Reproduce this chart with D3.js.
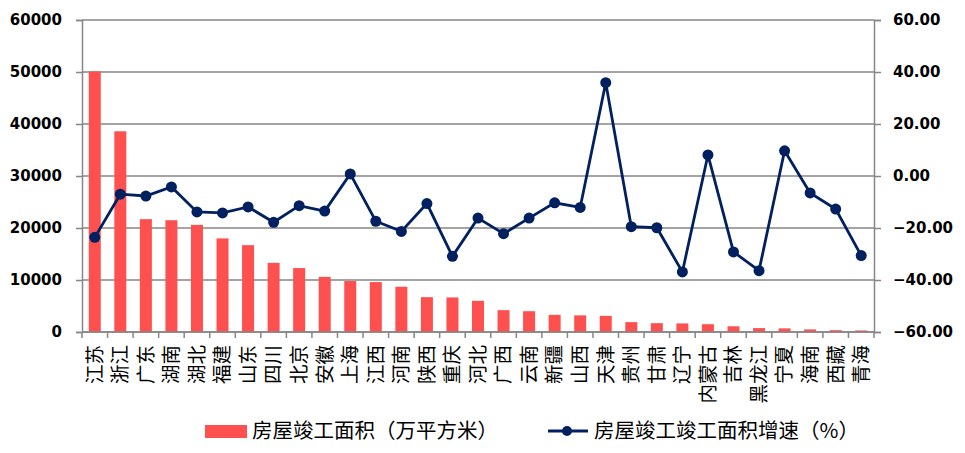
<!DOCTYPE html>
<html>
<head>
<meta charset="utf-8">
<script src="https://cdn.jsdelivr.net/npm/d3@7"></script>
<style>
  body { margin: 0; background: #fff; }
  svg { display: block; }
</style>
</head>
<body>
<div id="chart"></div>
<script>
// provinces, sorted by completed floor area
var provinces = ["江苏", "浙江", "广东", "湖南", "湖北", "福建", "山东", "四川", "北京", "安徽",
  "上海", "江西", "河南", "陕西", "重庆", "河北", "广西", "云南", "新疆", "山西",
  "天津", "贵州", "甘肃", "辽宁", "内蒙古", "吉林", "黑龙江", "宁夏", "海南", "西藏", "青海"];

// 房屋竣工面积（万平方米）
var areaValues = [50100, 38600, 21700, 21500, 20600, 18000, 16700, 13300, 12300, 10600,
  9800, 9600, 8700, 6700, 6650, 6000, 4200, 4000, 3300, 3200,
  3100, 1900, 1700, 1650, 1500, 1100, 750, 700, 500, 350, 300];

// 房屋竣工面积增速（%）
var growthValues = [-23.6, -7.0, -7.7, -4.2, -13.8, -14.2, -11.9, -17.8, -11.4, -13.5,
  0.8, -17.4, -21.3, -10.6, -30.9, -16.2, -22.2, -16.2, -10.3, -12.1,
  35.9, -19.5, -19.9, -36.9, 8.1, -29.2, -36.4, 9.7, -6.5, -12.7, -30.6];

var leftTicks = [0, 10000, 20000, 30000, 40000, 50000, 60000];
var rightTicks = [-60, -40, -20, 0, 20, 40, 60];

var width = 965;
var height = 453;
var margin = { top: 20, right: 91, bottom: 121, left: 82 };
var plotW = width - margin.left - margin.right;
var plotH = height - margin.top - margin.bottom;

var gray = "#868686";
var barColor = "#ff5050";
var lineColor = "#002060";

var svg = d3.select("#chart")
  .append("svg")
  .attr("width", width)
  .attr("height", height);

var g = svg.append("g")
  .attr("transform", "translate(" + margin.left + "," + margin.top + ")");

var x = d3.scaleBand()
  .domain(provinces)
  .range([0, plotW])
  .paddingInner(0.53)
  .paddingOuter(0.265);

var yLeft = d3.scaleLinear().domain([0, 60000]).range([plotH, 0]);
var yRight = d3.scaleLinear().domain([-60, 60]).range([plotH, 0]);

// gridlines
g.append("g")
  .selectAll("line")
  .data(leftTicks)
  .enter()
  .append("line")
  .attr("x1", 0)
  .attr("x2", plotW)
  .attr("y1", d => yLeft(d))
  .attr("y2", d => yLeft(d))
  .style("stroke", gray)
  .style("stroke-width", 1.3);

// left axis
var leftAxis = g.append("g")
  .call(d3.axisLeft(yLeft).tickValues(leftTicks).tickSize(6).tickPadding(14).tickFormat(d3.format("d")));

// right axis
var rightAxis = g.append("g")
  .attr("transform", "translate(" + plotW + ",0)")
  .call(d3.axisRight(yRight).tickValues(rightTicks).tickSize(7).tickPadding(12).tickFormat(d3.format(".2f")));

[leftAxis, rightAxis].forEach(function(a) {
  a.select(".domain").style("stroke", gray).style("stroke-width", 1.5);
  a.selectAll(".tick line").style("stroke", gray).style("stroke-width", 1.5);
  a.selectAll(".tick text")
    .style("font-family", "DejaVu Sans")
    .style("font-weight", "bold")
    .style("font-size", "15px")
    .style("fill", "#000");
});

// bars
g.append("g")
  .selectAll("rect")
  .data(areaValues)
  .enter()
  .append("rect")
  .attr("x", (d, i) => x(provinces[i]))
  .attr("y", d => yLeft(d))
  .attr("width", x.bandwidth())
  .attr("height", d => plotH - yLeft(d))
  .style("fill", barColor);

// bottom axis (ticks at band boundaries)
var step = plotW / provinces.length;
var bottom = g.append("g").attr("transform", "translate(0," + plotH + ")");
bottom.append("line")
  .attr("x1", 0).attr("x2", plotW)
  .style("stroke", gray).style("stroke-width", 1.5);
bottom.selectAll(".btick")
  .data(d3.range(provinces.length + 1))
  .enter()
  .append("line")
  .attr("class", "btick")
  .attr("x1", i => i * step).attr("x2", i => i * step)
  .attr("y1", 0).attr("y2", 6)
  .style("stroke", gray).style("stroke-width", 1.5);

// category labels, rotated to read bottom-to-top
bottom.selectAll(".cat")
  .data(provinces)
  .enter()
  .append("text")
  .attr("class", "cat")
  .attr("transform", d => "translate(" + (x(d) + x.bandwidth() / 2) + ",13) rotate(-90)")
  .attr("text-anchor", "end")
  .attr("dy", "0.35em")
  .style("font-family", "Noto Sans CJK SC")
  .style("font-size", "19.5px")
  .style("fill", "#000")
  .text(d => d);

// growth line
var line = d3.line()
  .x((d, i) => x(provinces[i]) + x.bandwidth() / 2)
  .y(d => yRight(d));

g.append("path")
  .datum(growthValues)
  .attr("d", line)
  .style("fill", "none")
  .style("stroke", lineColor)
  .style("stroke-width", 2.8);

g.append("g")
  .selectAll("circle")
  .data(growthValues)
  .enter()
  .append("circle")
  .attr("cx", (d, i) => x(provinces[i]) + x.bandwidth() / 2)
  .attr("cy", d => yRight(d))
  .attr("r", 5.5)
  .style("fill", lineColor);

// legend
var legend = svg.append("g");
legend.append("rect")
  .attr("x", 205).attr("y", 425)
  .attr("width", 42).attr("height", 13)
  .style("fill", barColor);
legend.append("text")
  .attr("x", 252).attr("y", 438)
  .style("font-family", "Noto Sans CJK SC")
  .style("font-size", "20.5px")
  .text("房屋竣工面积（万平方米）");

legend.append("line")
  .attr("x1", 548).attr("x2", 588)
  .attr("y1", 431).attr("y2", 431)
  .style("stroke", lineColor).style("stroke-width", 2.8);
legend.append("circle")
  .attr("cx", 567).attr("cy", 431).attr("r", 5)
  .style("fill", lineColor);
legend.append("text")
  .attr("x", 594).attr("y", 438)
  .style("font-family", "Noto Sans CJK SC")
  .style("font-size", "20.5px")
  .text("房屋竣工竣工面积增速（%）");
</script>
</body>
</html>
